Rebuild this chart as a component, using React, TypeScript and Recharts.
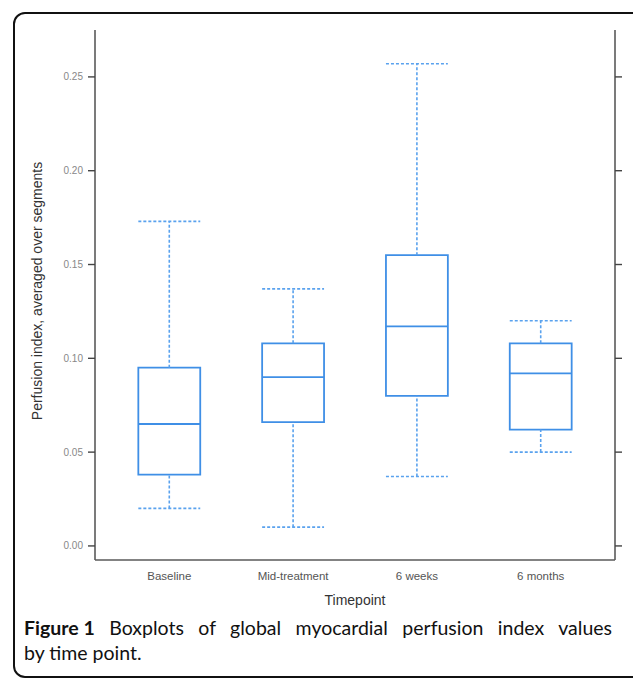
import React from 'react'
import {
  ComposedChart,
  XAxis,
  YAxis,
  Scatter,
  ReferenceArea,
  ReferenceLine,
} from 'recharts'

const categories = ['Baseline', 'Mid-treatment', '6 weeks', '6 months']
const whiskerLow = [0.02, 0.01, 0.037, 0.05]
const q1 = [0.038, 0.066, 0.08, 0.062]
const median = [0.065, 0.09, 0.117, 0.092]
const q3 = [0.095, 0.108, 0.155, 0.108]
const whiskerHigh = [0.173, 0.137, 0.257, 0.12]
const yTicks = [0, 0.05, 0.1, 0.15, 0.2, 0.25]

const BLUE = '#3f8fe6'
const WHISKER = '#5aa2ee'
const FRAME = '#5a5a5a'
const HALF = 0.25

const data = categories.map((name, i) => ({ x: i + 1, name, median: median[i] }))

export default function App() {
  return (
    <div
      style={{
        position: 'fixed',
        left: 0,
        top: 0,
        width: 633,
        height: 681,
        overflow: 'hidden',
        background: '#fff',
        fontFamily: '"Liberation Sans", Arial, sans-serif',
      }}
    >
      <div
        style={{
          position: 'absolute',
          left: 13,
          top: 12,
          width: 640,
          height: 666,
          border: '2px solid #111',
          borderRadius: 12,
          boxSizing: 'border-box',
        }}
      />
      <div style={{ position: 'absolute', left: 0, top: 0 }}>
        <ComposedChart
          width={633}
          height={620}
          data={data}
          margin={{ top: 30, right: 8, bottom: 10, left: 35 }}
        >
          <XAxis
            type="number"
            dataKey="x"
            domain={[0.4, 4.6]}
            ticks={[1, 2, 3, 4]}
            tickFormatter={(v: number) => categories[v - 1] ?? ''}
            tickLine={false}
            tickSize={8}
            tickMargin={4}
            height={50}
            axisLine={{ stroke: FRAME, strokeWidth: 1.6 }}
            tick={{ fill: '#555', fontSize: 11.5 }}
            allowDataOverflow
            label={{ value: 'Timepoint', position: 'insideBottom', offset: 5, fill: '#333', fontSize: 14 }}
          />
          <XAxis
            xAxisId="top"
            orientation="top"
            type="number"
            dataKey="x"
            domain={[0.4, 4.6]}
            height={0}
            tick={false}
            tickLine={false}
            axisLine={{ stroke: FRAME, strokeWidth: 1.6 }}
          />
          <YAxis
            type="number"
            domain={[-0.0075, 0.275]}
            ticks={yTicks}
            tickFormatter={(v: number) => v.toFixed(2)}
            width={60}
            tickSize={7}
            tickMargin={5}
            allowDataOverflow
            axisLine={{ stroke: FRAME, strokeWidth: 1.6 }}
            tickLine={{ stroke: '#444', strokeWidth: 1.4 }}
            tick={{ fill: '#888', fontSize: 10 }}
          />
          <YAxis
            yAxisId="right"
            orientation="right"
            type="number"
            domain={[-0.0075, 0.275]}
            ticks={yTicks}
            tickFormatter={() => ''}
            width={10}
            tickSize={7}
            allowDataOverflow
            axisLine={{ stroke: FRAME, strokeWidth: 1.6 }}
            tickLine={{ stroke: '#444', strokeWidth: 1.4 }}
          />
          {categories.map((c, i) => (
            <ReferenceLine
              key={`wh-${c}`}
              segment={[{ x: i + 1, y: q3[i] }, { x: i + 1, y: whiskerHigh[i] }]}
              stroke={WHISKER}
              strokeWidth={1.6}
              strokeDasharray="3 2"
            />
          ))}
          {categories.map((c, i) => (
            <ReferenceLine
              key={`wl-${c}`}
              segment={[{ x: i + 1, y: whiskerLow[i] }, { x: i + 1, y: q1[i] }]}
              stroke={WHISKER}
              strokeWidth={1.6}
              strokeDasharray="3 2"
            />
          ))}
          {categories.map((c, i) => (
            <ReferenceLine
              key={`ch-${c}`}
              segment={[{ x: i + 1 - HALF, y: whiskerHigh[i] }, { x: i + 1 + HALF, y: whiskerHigh[i] }]}
              stroke={WHISKER}
              strokeWidth={1.6}
              strokeDasharray="3 2"
            />
          ))}
          {categories.map((c, i) => (
            <ReferenceLine
              key={`cl-${c}`}
              segment={[{ x: i + 1 - HALF, y: whiskerLow[i] }, { x: i + 1 + HALF, y: whiskerLow[i] }]}
              stroke={WHISKER}
              strokeWidth={1.6}
              strokeDasharray="3 2"
            />
          ))}
          {categories.map((c, i) => (
            <ReferenceArea
              key={`box-${c}`}
              x1={i + 1 - HALF}
              x2={i + 1 + HALF}
              y1={q1[i]}
              y2={q3[i]}
              fill="none"
              stroke={BLUE}
              strokeWidth={1.8}
            />
          ))}
          {categories.map((c, i) => (
            <ReferenceLine
              key={`md-${c}`}
              segment={[{ x: i + 1 - HALF, y: median[i] }, { x: i + 1 + HALF, y: median[i] }]}
              stroke={BLUE}
              strokeWidth={1.8}
            />
          ))}
          <Scatter dataKey="median" isAnimationActive={false} shape={() => <g />} />
        </ComposedChart>
      </div>
      <div
        style={{
          position: 'absolute',
          left: 37,
          top: 291,
          transform: 'translate(-50%, -50%) rotate(-90deg)',
          whiteSpace: 'nowrap',
          fontSize: 14,
          color: '#333',
        }}
      >
        Perfusion index, averaged over segments
      </div>
      <div
        style={{
          position: 'absolute',
          left: 24,
          top: 615,
          width: 588,
          fontFamily: 'Lato, "Noto Sans", sans-serif',
          fontSize: 19.5,
          lineHeight: '25px',
          color: '#111',
        }}
      >
        <div style={{ textAlign: 'justify', textAlignLast: 'justify', whiteSpace: 'nowrap' }}>
          <b style={{ display: 'inline-block' }}>Figure 1</b> Boxplots of global myocardial perfusion index values
        </div>
        <div>by time point.</div>
      </div>
    </div>
  )
}
